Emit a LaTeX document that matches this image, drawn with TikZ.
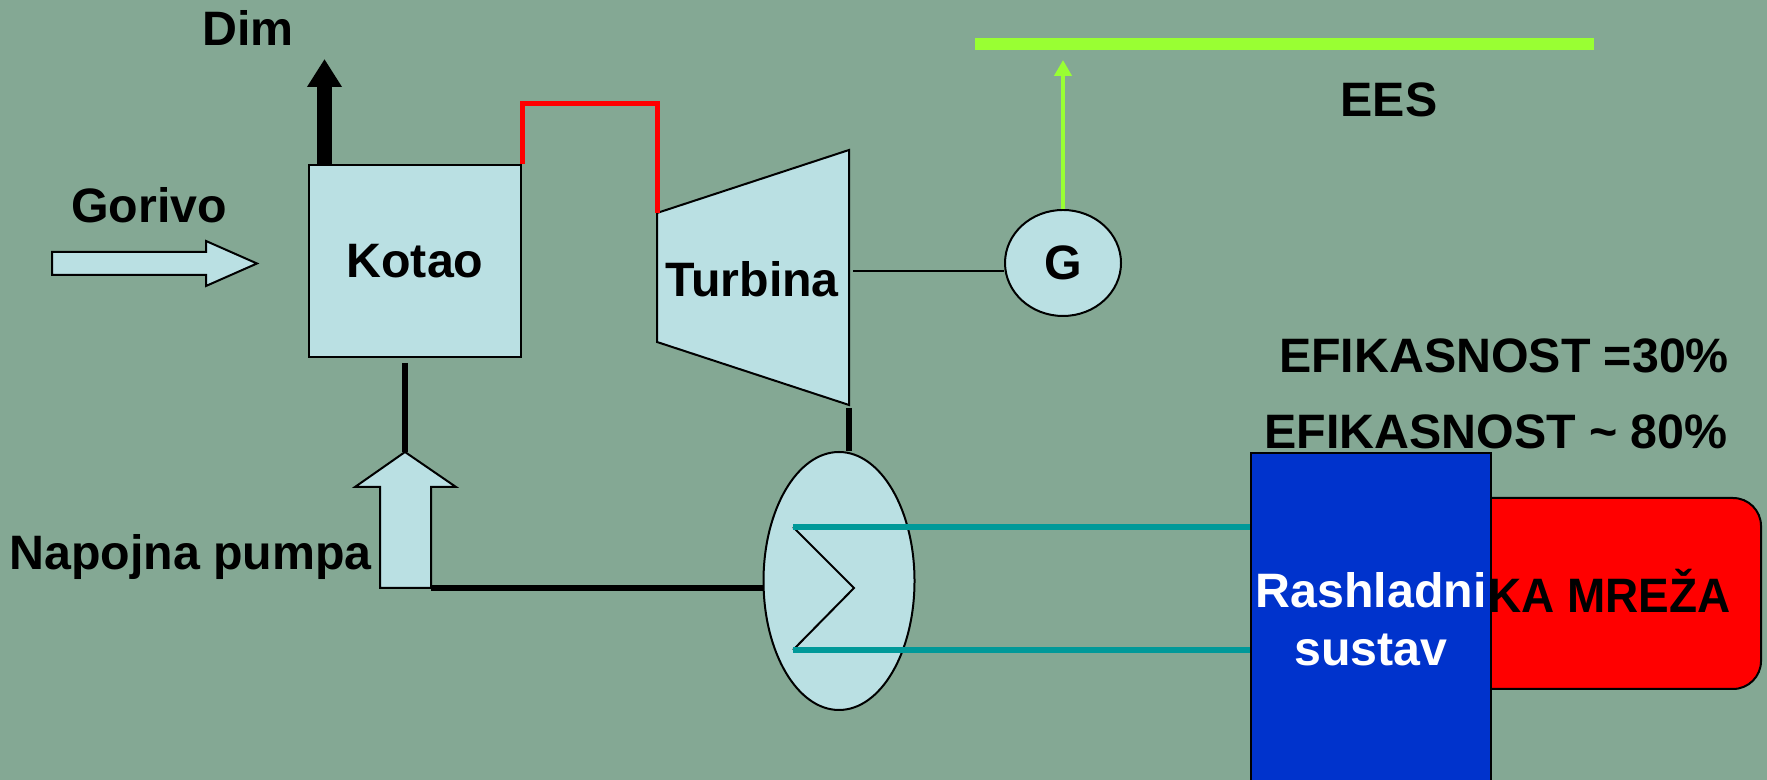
\documentclass[tikz,border=0pt]{standalone}
\usepackage{fontspec}
\setmainfont{Liberation Sans}
\usetikzlibrary{shapes.geometric,arrows.meta}

\begin{document}
\begin{tikzpicture}
	\tikzstyle{every node}=[font=\fontsize{27.5pt}{33pt}\selectfont\bfseries, inner sep=0pt]
	\tikzstyle{unit}=[draw, line width=0.04cm, fill={rgb,255:red,186; green,224; blue,227}]
	\tikzstyle{pipe}=[line width=0.12cm]
	\tikzstyle{steam}=[draw={rgb,255:red,255; green,0; blue,0}, line width=0.1cm]
	\tikzstyle{water}=[draw={rgb,255:red,0; green,153; blue,153}, line width=0.13cm]
	\tikzstyle{power}=[draw={rgb,255:red,153; green,255; blue,51}]
	\useasboundingbox (0,0) rectangle (35.34,15.6);
	\clip (0,0) rectangle (35.34,15.6);
	\fill [fill={rgb,255:red,132; green,168; blue,148}] (0,0) rectangle (35.34,15.6);
	% labels
	\node (dim) at (4.96,15.04) {Dim};
	\node (gorivo) at (2.98,11.5) {Gorivo};
	\node (ees) at (27.78,13.6) {EES};
	\node (eff1) at (30.08,8.48) {EFIKASNOST =30\%};
	\node (eff2) at (29.92,6.96) {EFIKASNOST \textasciitilde{} 80\%};
	\node [anchor=base] (napojna) at (3.81,4.2) {Napojna pumpa};
	% fuel arrow
	\draw [unit] (1.04,10.56) -- (4.12,10.56) -- (4.12,10.78) -- (5.14,10.33) -- (4.12,9.88) -- (4.12,10.1) -- (1.04,10.1) -- cycle;
	% boiler
	\node [unit, minimum width=4.24cm, minimum height=3.84cm] (kotao) at (8.3,10.38) {Kotao};
	\coordinate (dimtip) at (6.49,14.42);
	\draw [line width=0.3cm, -{Triangle[length=0.56cm, width=0.66cm]}] (kotao.north -| dimtip) -- (dimtip);
	% turbine
	\coordinate (tul) at (13.14,11.34);
	\coordinate (tur) at (16.98,12.6);
	\coordinate (tbr) at (16.98,7.5);
	\coordinate (tbl) at (13.14,8.76);
	\draw [unit] (tul) -- (tur) -- (tbr) -- (tbl) -- cycle;
	\node (turbina) at (15.04,10.02) {Turbina};
	\draw [steam] (kotao.north east) -- ++(0,1.2) -| (tul);
	% generator
	\node [unit, ellipse, minimum width=2.32cm, minimum height=2.12cm] (g) at (21.26,10.34) {G};
	\coordinate (tshaft) at (17.06,10.18);
	\draw [line width=0.04cm] (tshaft) -- (tshaft -| g.west);
	\coordinate (eestip) at (21.26,14.4);
	\draw [power, line width=0.08cm, -{Triangle[length=0.32cm, width=0.34cm]}] (g.north) -- (eestip);
	\draw [power, line width=0.24cm] (19.5,14.72) -- (31.88,14.72);
	% feed pump
	\coordinate (pumptip) at (8.1,6.56);
	\coordinate (pumpbr) at (8.62,3.84);
	\draw [unit] (7.6,3.84) -- (7.6,5.86) -- (7.1,5.86) -- (pumptip) -- (9.12,5.86) -- (8.62,5.86) -- (pumpbr) -- cycle;
	\draw [pipe, shorten <=0.1cm] (pumptip |- kotao.south) -- (pumptip);
	% condenser
	\node [unit, ellipse, minimum width=3.02cm, minimum height=5.16cm] (kond) at (16.78,3.98) {};
	\draw [pipe, shorten <=0.06cm] (tbr) -- (tbr |- kond.north);
	\draw [pipe] (pumpbr) -- (pumpbr -| kond.west);
	\coordinate (zz1) at (15.86,5.06);
	\coordinate (zzm) at (17.08,3.84);
	\coordinate (zz2) at (15.86,2.6);
	\draw [line width=0.04cm] (zz1) -- (zzm) -- (zz2);
	% heating network and cooling system
	\node [draw, line width=0.04cm, fill={rgb,255:red,255; green,0; blue,0}, rounded corners=0.56cm, minimum width=7.22cm, minimum height=3.82cm] (mreza) at (31.61,3.73) {};
	\node [anchor=base east, xscale=0.95] (mrezatxt) at (34.62,3.34) {SKA MREŽA};
	\node [draw, line width=0.04cm, fill={rgb,255:red,0; green,51; blue,204}, text=white, align=center, minimum width=4.8cm, minimum height=6.64cm] (rashl) at (27.42,3.22) {Rashladni\\sustav};
	\draw [water] (zz1) -- (zz1 -| rashl.west);
	\draw [water] (zz2) -- (zz2 -| rashl.west);
\end{tikzpicture}
\end{document}
